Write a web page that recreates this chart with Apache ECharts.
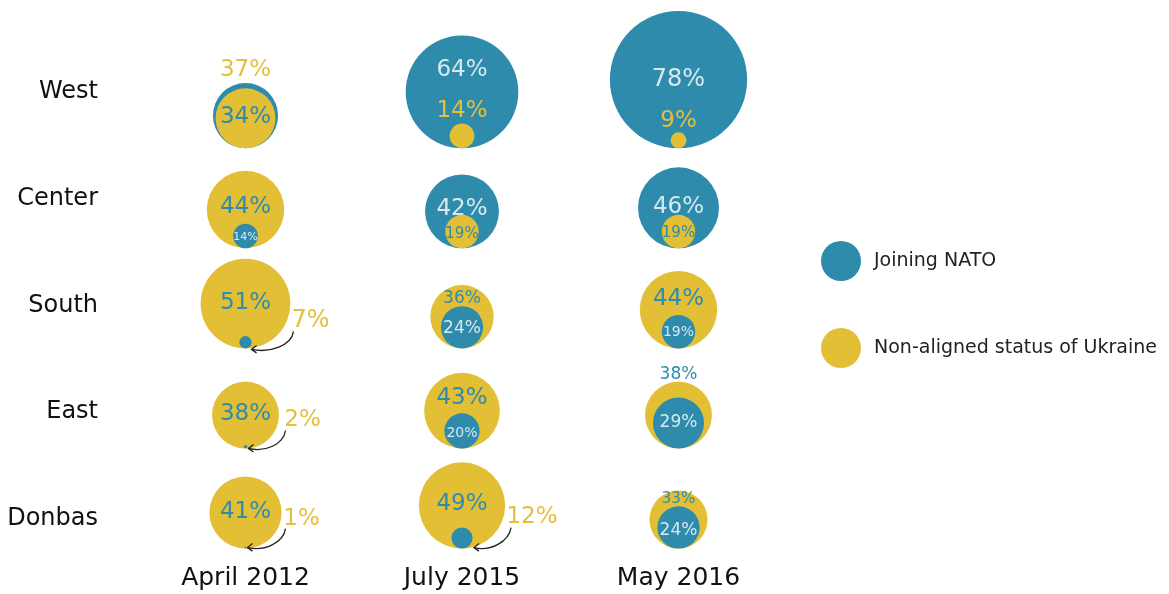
<!DOCTYPE html>
<html><head><meta charset="utf-8">
<script src="https://cdn.jsdelivr.net/npm/echarts@6/dist/echarts.min.js"></script>
<style>html,body{margin:0;padding:0;background:#fff}#chart{width:1169px;height:594px}</style>
</head><body><div id="chart"></div>
<script>
// ---------- data ----------
const periods = ['April 2012', 'July 2015', 'May 2016'];
const regions = ['West', 'Center', 'South', 'East', 'Donbas'];
const seriesNames = ['Joining NATO', 'Non-aligned status of Ukraine'];
// rows = regions, columns = periods (percent)
const joiningNATO = [
  [37, 64, 78],
  [14, 42, 46],
  [7, 24, 19],
  [2, 20, 29],
  [1, 12, 24]
];
const nonAligned = [
  [34, 14, 9],
  [44, 19, 19],
  [51, 36, 44],
  [38, 43, 38],
  [41, 49, 33]
];

// ---------- styles ----------
const FONT = 'DejaVu Sans';
const BLUE = '#2e8bab', YELLOW = '#e2bf35';
const TXT = { b: '#2f8cad', l: '#d8e8ee', y: '#e3c03c' };
const RADIUS_PER_PCT = 0.88;
// label placement per cell "row-col-series" : [dx, dy, fontSize, colour]
const labelLayout = {
  '0-0-0': [0, -46, 23, 'y'], '0-0-1': [0, -1, 23, 'b'],
  '0-1-0': [0, -22, 23, 'l'], '0-1-1': [0, -25, 23, 'y'],
  '0-2-0': [0, 0, 24, 'l'],   '0-2-1': [0, -19, 23, 'y'],
  '1-0-1': [0, -3, 23, 'b'],  '1-0-0': [0, 1, 11, 'l'],
  '1-1-0': [0, -2, 23, 'l'],  '1-1-1': [0, 3, 15, 'b'],
  '1-2-0': [0, -1, 23, 'l'],  '1-2-1': [0, 2, 15, 'b'],
  '2-0-1': [0, 0, 23, 'b'],   '2-0-0': [65, -21, 24, 'y'],
  '2-1-1': [0, -18, 17, 'b'], '2-1-0': [0, 1, 17, 'l'],
  '2-2-1': [0, -11, 23, 'b'], '2-2-0': [0, 1, 14, 'l'],
  '3-0-1': [0, -1, 23, 'b'],  '3-0-0': [57, -27, 23, 'y'],
  '3-1-1': [0, -13, 23, 'b'], '3-1-0': [0, 2, 14, 'l'],
  '3-2-1': [0, -40, 17, 'b'], '3-2-0': [0, 0, 17, 'l'],
  '4-0-1': [0, 0, 23, 'b'],   '4-0-0': [56, -29, 23, 'y'],
  '4-1-1': [0, -1, 23, 'b'],  '4-1-0': [70, -21, 23, 'y'],
  '4-2-1': [0, -20, 15, 'b'], '4-2-0': [0, 3, 17, 'l']
};
// callout arrows, offsets (px) from the circles' common bottom point
const arrowLayout = {
  '2-0': { s: [48, -17], e: [6, 1] },
  '3-0': { s: [40, -18], e: [3, 0] },
  '4-0': { s: [40, -20], e: [2, -1] },
  '4-1': { s: [49, -21], e: [12, -1] }
};

// ---------- build series ----------
function item(r, c, s, v) {
  const L = labelLayout[r + '-' + c + '-' + s];
  return {
    value: [c, r, v],
    label: { offset: [L[0], L[1]], fontSize: L[2], color: TXT[L[3]] }
  };
}
const buckets = [[[], []], [[], []]]; // [layer][series]
regions.forEach((reg, r) => {
  periods.forEach((p, c) => {
    const n = joiningNATO[r][c], a = nonAligned[r][c];
    const natoBack = n >= a;
    buckets[natoBack ? 0 : 1][0].push(item(r, c, 0, n));
    buckets[natoBack ? 1 : 0][1].push(item(r, c, 1, a));
  });
});
const colors = [BLUE, YELLOW];
const series = [];
[0, 1].forEach(layer => {
  [0, 1].forEach(s => {
    series.push({
      name: seriesNames[s],
      type: 'scatter',
      xAxisIndex: 0, yAxisIndex: 0,
      z: 2 + layer,
      clip: false,
      silent: true,
      symbol: 'circle',
      symbolSize: v => v[2] * RADIUS_PER_PCT * 2,
      symbolOffset: [0, '-50%'],
      itemStyle: { color: colors[s], opacity: 1 },
      label: {
        show: true, position: 'inside', fontFamily: FONT,
        textBorderWidth: 0, textBorderColor: 'transparent',
        textShadowBlur: 0, textShadowColor: 'transparent',
        formatter: p => p.value[2] + '%'
      },
      emphasis: { disabled: true },
      data: buckets[layer][s]
    });
  });
});
series.push({
  type: 'custom',
  xAxisIndex: 0, yAxisIndex: 0,
  z: 5, silent: true, clip: false,
  data: Object.keys(arrowLayout).map(k => { const [r, c] = k.split('-').map(Number); return [c, r]; }),
  renderItem: (params, api) => {
    const c = api.value(0), r = api.value(1);
    const p = api.coord([c, r]);
    const A = arrowLayout[r + '-' + c];
    const sx = p[0] + A.s[0], sy = p[1] + A.s[1];
    const ex = p[0] + A.e[0], ey = p[1] + A.e[1];
    const dx = sx - ex;
    return {
      type: 'group',
      children: [
        { type: 'bezierCurve', shape: { x1: sx, y1: sy, cpx1: sx - 2, cpy1: sy + 14, cpx2: ex + dx * 0.45, cpy2: ey + 4, x2: ex, y2: ey },
          style: { stroke: '#222', lineWidth: 1.3, fill: null } },
        { type: 'polyline', shape: { points: [[ex + 5, ey - 4], [ex, ey], [ex + 5, ey + 3.5]] },
          style: { stroke: '#222', lineWidth: 1.3, fill: null } }
      ]
    };
  }
});

const chart = echarts.init(document.getElementById('chart'));
chart.setOption({
  animation: false,
  backgroundColor: '#fff',
  legend: {
    orient: 'vertical', left: 816, top: 236,
    icon: 'circle', itemWidth: 56, itemHeight: 40, itemGap: 47,
    selectedMode: false,
    textStyle: { fontFamily: FONT, fontSize: 19, color: '#222' },
    data: seriesNames
  },
  grid: [
    { left: 245.5, right: 490.5, top: 148.2, bottom: 45.4 },
    { left: 108, width: 10, top: 92, bottom: 75 }
  ],
  xAxis: [
    { type: 'category', gridIndex: 0, data: periods, boundaryGap: false,
      axisLine: { show: false }, axisTick: { show: false }, splitLine: { show: false },
      axisLabel: { interval: 0, margin: 17, fontFamily: FONT, fontSize: 25, color: '#111' } },
    { type: 'value', gridIndex: 1, show: false }
  ],
  yAxis: [
    { type: 'category', gridIndex: 0, data: regions, inverse: true, boundaryGap: false,
      axisLine: { show: false }, axisTick: { show: false }, axisLabel: { show: false }, splitLine: { show: false } },
    { type: 'category', gridIndex: 1, data: regions, inverse: true, boundaryGap: false,
      axisLine: { show: false }, axisTick: { show: false }, splitLine: { show: false },
      axisLabel: { interval: 0, margin: 10, fontFamily: FONT, fontSize: 24, color: '#111' } }
  ],
  series: series
});
</script></body></html>
